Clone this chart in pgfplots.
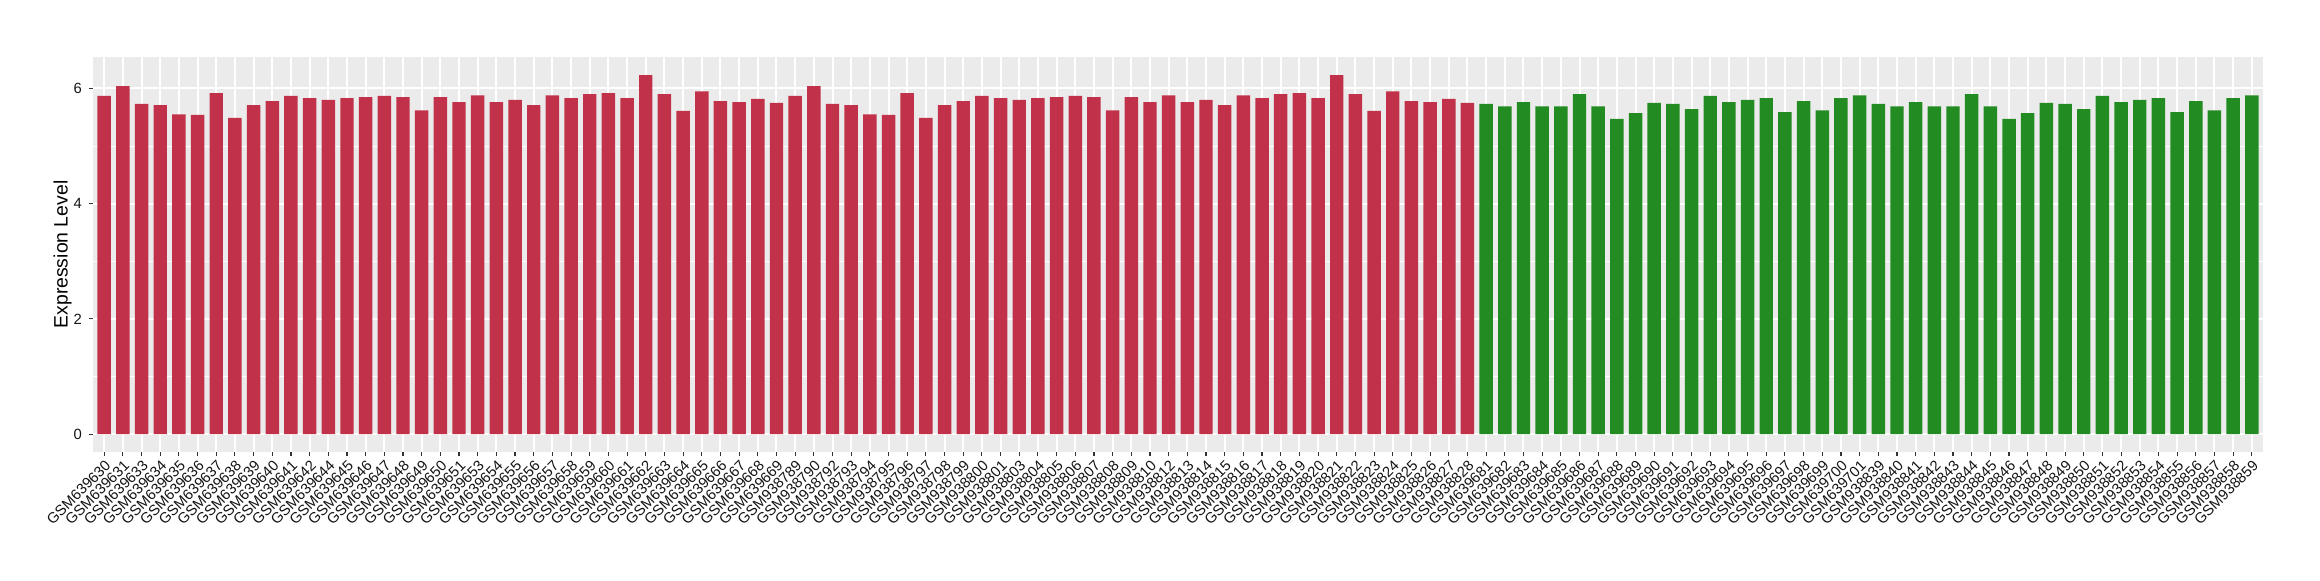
\documentclass[border=0pt]{standalone}
\usepackage{pgfplots}
\pgfplotsset{compat=1.18}
\usepackage{pgfplotstable}
\usepackage{fontspec}
\setmainfont{Liberation Sans}
\definecolor{ggred}{RGB}{193,50,74}
\definecolor{gggreen}{RGB}{34,139,34}
\definecolor{ggpanel}{RGB}{235,235,235}
\definecolor{ggtick}{RGB}{51,51,51}
\definecolor{ggtext}{RGB}{20,20,20}

\pgfplotstableread{
x y
1 5.87
2 6.04
3 5.73
4 5.71
5 5.55
6 5.54
7 5.92
8 5.49
9 5.71
10 5.78
11 5.87
12 5.83
13 5.80
14 5.83
15 5.85
16 5.87
17 5.85
18 5.62
19 5.85
20 5.76
21 5.88
22 5.76
23 5.80
24 5.71
25 5.88
26 5.83
27 5.90
28 5.92
29 5.83
30 6.23
31 5.90
32 5.61
33 5.95
34 5.78
35 5.76
36 5.82
37 5.75
38 5.87
39 6.04
40 5.73
41 5.71
42 5.55
43 5.54
44 5.92
45 5.49
46 5.71
47 5.78
48 5.87
49 5.83
50 5.80
51 5.83
52 5.85
53 5.87
54 5.85
55 5.62
56 5.85
57 5.76
58 5.88
59 5.76
60 5.80
61 5.71
62 5.88
63 5.83
64 5.90
65 5.92
66 5.83
67 6.23
68 5.90
69 5.61
70 5.95
71 5.78
72 5.76
73 5.82
74 5.75
}\redtab

\pgfplotstableread{
x y
75 5.73
76 5.69
77 5.76
78 5.69
79 5.69
80 5.90
81 5.69
82 5.47
83 5.57
84 5.75
85 5.73
86 5.64
87 5.87
88 5.76
89 5.80
90 5.83
91 5.59
92 5.78
93 5.62
94 5.83
95 5.88
96 5.73
97 5.69
98 5.76
99 5.69
100 5.69
101 5.90
102 5.69
103 5.47
104 5.57
105 5.75
106 5.73
107 5.64
108 5.87
109 5.76
110 5.80
111 5.83
112 5.59
113 5.78
114 5.62
115 5.83
116 5.88
}\greentab

\begin{document}
\begin{tikzpicture}
\useasboundingbox (0,0) rectangle (1160pt,290pt);
\begin{axis}[
  at={(46.5pt,64pt)}, anchor=south west,
  scale only axis, width=1085pt, height=197.5pt,
  xmin=0.4, xmax=116.6, ymin=-0.3115, ymax=6.545,
  axis background/.style={fill=ggpanel},
  axis line style={draw=none},
  tick align=outside, tick pos=left,
  major tick length=2pt, minor tick length=0pt,
  tick style={ggtick, line width=0.55pt},
  /pgf/number format/assume math mode=true,
  ytick={0,2,4,6},
  minor ytick={1,3,5},
  xmajorgrids, ymajorgrids, yminorgrids,
  major grid style={white, line width=1pt},
  minor grid style={white, line width=0.5pt},
  xtick={1,...,116},
  xticklabels={GSM639630,GSM639631,GSM639633,GSM639634,GSM639635,GSM639636,GSM639637,GSM639638,GSM639639,GSM639640,GSM639641,GSM639642,GSM639644,GSM639645,GSM639646,GSM639647,GSM639648,GSM639649,GSM639650,GSM639651,GSM639653,GSM639654,GSM639655,GSM639656,GSM639657,GSM639658,GSM639659,GSM639660,GSM639661,GSM639662,GSM639663,GSM639664,GSM639665,GSM639666,GSM639667,GSM639668,GSM639669,GSM938789,GSM938790,GSM938792,GSM938793,GSM938794,GSM938795,GSM938796,GSM938797,GSM938798,GSM938799,GSM938800,GSM938801,GSM938803,GSM938804,GSM938805,GSM938806,GSM938807,GSM938808,GSM938809,GSM938810,GSM938812,GSM938813,GSM938814,GSM938815,GSM938816,GSM938817,GSM938818,GSM938819,GSM938820,GSM938821,GSM938822,GSM938823,GSM938824,GSM938825,GSM938826,GSM938827,GSM938828,GSM639681,GSM639682,GSM639683,GSM639684,GSM639685,GSM639686,GSM639687,GSM639688,GSM639689,GSM639690,GSM639691,GSM639692,GSM639693,GSM639694,GSM639695,GSM639696,GSM639697,GSM639698,GSM639699,GSM639700,GSM639701,GSM938839,GSM938840,GSM938841,GSM938842,GSM938843,GSM938844,GSM938845,GSM938846,GSM938847,GSM938848,GSM938849,GSM938850,GSM938851,GSM938852,GSM938853,GSM938854,GSM938855,GSM938856,GSM938857,GSM938858,GSM938859},
  xticklabel style={rotate=45, anchor=north east, inner sep=1pt, font=\fontsize{7.4pt}{8.5pt}\selectfont, text=ggtext},
  yticklabel style={font=\fontsize{7.4pt}{8.5pt}\selectfont, text=ggtext},
  ylabel={Expression Level},
  ylabel style={at={(axis description cs:-0.0097,0.5)}, anchor=south, inner sep=0pt, font=\fontsize{9.7pt}{11pt}\selectfont, text=black},
]
\addplot[ybar, bar width=0.72, bar shift=0pt, fill=ggred, draw=none] table[x=x, y=y] {\redtab};
\addplot[ybar, bar width=0.72, bar shift=0pt, fill=gggreen, draw=none] table[x=x, y=y] {\greentab};
\end{axis}
\end{tikzpicture}
\end{document}
